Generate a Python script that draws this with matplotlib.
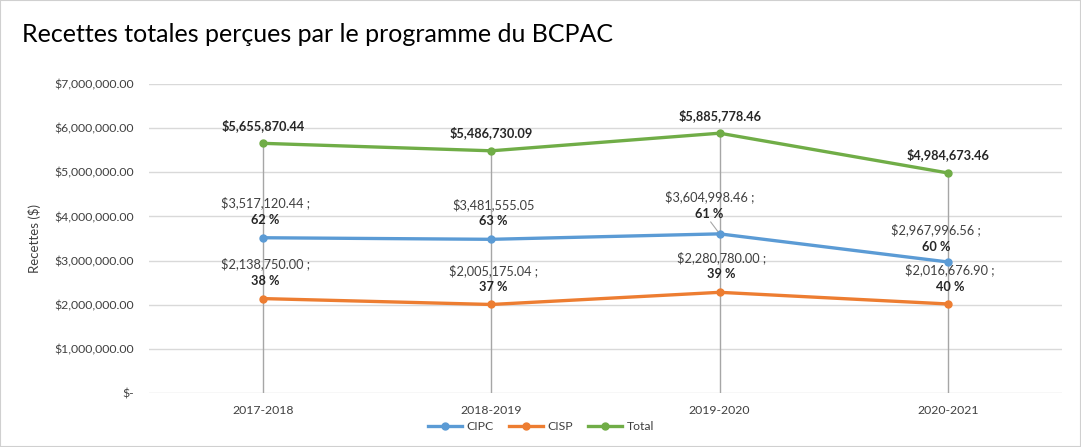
import matplotlib
matplotlib.use("Agg")
import matplotlib.pyplot as plt
from matplotlib.patches import Rectangle

categories = ["2017-2018", "2018-2019", "2019-2020", "2020-2021"]
cipc = [3517120.44, 3481555.05, 3604998.46, 2967996.56]
cisp = [2138750.00, 2005175.04, 2280780.00, 2016676.90]
total = [5655870.44, 5486730.09, 5885778.46, 4984673.46]
yticks = [0, 1e6, 2e6, 3e6, 4e6, 5e6, 6e6, 7e6]
ytick_labels = ["$-", "$1,000,000.00", "$2,000,000.00", "$3,000,000.00",
                "$4,000,000.00", "$5,000,000.00", "$6,000,000.00", "$7,000,000.00"]
title = "Recettes totales perçues par le programme du BCPAC"
ylabel = "Recettes ($)"

plt.rcParams['font.family'] = ['Lato', 'DejaVu Sans']

C_BLUE = "#5B9BD5"
C_ORANGE = "#ED7D31"
C_GREEN = "#70AD47"
TXT = "#404040"

fig = plt.figure(figsize=(10.81, 4.47), dpi=100)
ax = fig.add_axes([149/1081, 1-393/447, (1062-149)/1081, (393-84)/447])

x = list(range(len(categories)))

# drop lines
for xi, t in zip(x, total):
    ax.plot([xi, xi], [0, t], color="#A6A6A6", lw=1.0, zorder=1)

ax.plot(x, cipc, color=C_BLUE, lw=2.4, marker="o", ms=5, label="CIPC", zorder=3)
ax.plot(x, cisp, color=C_ORANGE, lw=2.4, marker="o", ms=5, label="CISP", zorder=3)
ax.plot(x, total, color=C_GREEN, lw=2.4, marker="o", ms=5, label="Total", zorder=3)

ax.set_xlim(-0.5, 3.5)
ax.set_ylim(0, 7e6)
ax.set_yticks(yticks)
ax.set_yticklabels(ytick_labels)
ax.set_xticks(x)
ax.set_xticklabels(categories)
ax.tick_params(axis="y", length=0, pad=11, labelsize=8.8, labelcolor=TXT)
ax.tick_params(axis="x", length=0, pad=9, labelsize=8.8, labelcolor=TXT)
ax.grid(axis="y", color="#D9D9D9", lw=1.0, zorder=0)
ax.set_axisbelow(True)
for s in ax.spines.values():
    s.set_visible(False)
ax.set_ylabel(ylabel, fontsize=9.5, color=TXT)
ax.yaxis.set_label_coords(-0.118, 0.5)

def fmt(v):
    return "${:,.2f}".format(v)

# Total labels
for xi, t in zip(x, total):
    ax.annotate(fmt(t), (xi, t), xytext=(0, 18), textcoords="offset pixels",
                ha="center", va="center", fontsize=9.2, fontweight="bold", color="#262626")

# component labels: (dx, dy_first, dy_second, semicolon)
cipc_off = [(2, 35, 18, True), (2, 35, 18, False), (-10, 37, 20, True), (-12, 32, 15, True)]
cisp_off = [(2, 35, 18, True), (2, 34, 17, True), (2, 35, 18, True), (2, 34, 17, True)]

def comp_labels(vals, offs):
    for xi, v, t, (dx, d1, d2, semi) in zip(x, vals, total, offs):
        pct = round(100 * v / t)
        txt1 = fmt(v) + (" ;" if semi else "")
        ax.annotate(txt1, (xi, v), xytext=(dx, d1), textcoords="offset pixels",
                    ha="center", va="center", fontsize=9.2, color=TXT)
        ax.annotate("{} %".format(pct), (xi, v), xytext=(dx, d2), textcoords="offset pixels",
                    ha="center", va="center", fontsize=9.2, fontweight="bold", color="#262626")

comp_labels(cipc, cipc_off)
comp_labels(cisp, cisp_off)

# leader line for 2019-2020 CIPC
ax.annotate("", (2, cipc[2]), xytext=(-9, 12), textcoords="offset pixels",
            arrowprops=dict(arrowstyle="-", color="#A6A6A6", lw=0.8, shrinkA=0, shrinkB=2))

fig.text(22/1081, 1-35/447, title, fontsize=18, color="#000000", ha="left", va="center")

handles, labels = ax.get_legend_handles_labels()
leg = fig.legend(handles, labels, loc="center", bbox_to_anchor=(541/1081, 1-427/447),
                 ncol=3, frameon=False, fontsize=8.8, handlelength=2.8,
                 columnspacing=1.2, handletextpad=0.4, labelcolor=TXT,
                 borderpad=0, borderaxespad=0)

fig.patches.append(Rectangle((0, 0), 1, 1, transform=fig.transFigure, fill=False,
                             edgecolor="#D0D0D0", lw=1.5))

fig.savefig("out.png", dpi=100)
